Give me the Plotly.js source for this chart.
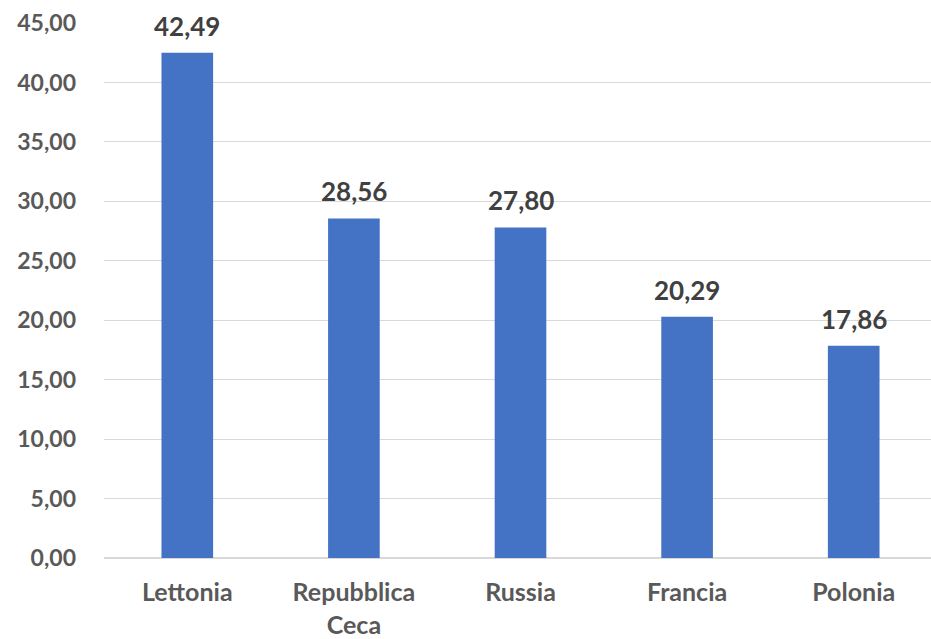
<!DOCTYPE html>
<html>
<head>
<meta charset="utf-8">
<script src="https://cdn.plot.ly/plotly-3.0.1.min.js"></script>
<style>
html,body{margin:0;padding:0;overflow:hidden;background:#fff;}
#chart{width:937px;height:639px;}
</style>
</head>
<body>
<div id="chart"></div>
<script>
const categories = ["Lettonia", "Repubblica<br>Ceca", "Russia", "Francia", "Polonia"];
const values = [42.49, 28.56, 27.80, 20.29, 17.86];
const yTicks = [0, 5, 10, 15, 20, 25, 30, 35, 40, 45];

const FONT = "Lato, 'Open Sans', sans-serif";

const trace = {
  type: "bar",
  x: categories,
  y: values,
  marker: {color: "#4472C4"},
  hoverinfo: "none"
};

const fmt = v => v.toFixed(2).replace(".", ",");

const labels = categories.map((c, i) => ({
  x: c,
  y: values[i],
  xref: "x",
  yref: "y",
  text: "<b>" + fmt(values[i]) + "</b>",
  showarrow: false,
  yanchor: "bottom",
  yshift: 9,
  font: {family: FONT, size: 26, color: "#404040", weight: 700}
}));

const layout = {
  width: 937,
  height: 639,
  separators: ",.",
  margin: {l: 104, r: 0, t: 23, b: 81},
  paper_bgcolor: "#fff",
  plot_bgcolor: "#fff",
  showlegend: false,
  bargap: 0.69,
  font: {family: FONT, color: "#595959"},
  annotations: labels,
  xaxis: {
    type: "category",
    showgrid: false,
    showline: false,
    ticks: "",
    tickfont: {family: FONT, size: 25, color: "#595959", weight: 700},
    ticklabelstandoff: 17
  },
  yaxis: {
    range: [0, 45],
    tickvals: yTicks,
    tickformat: ".2f",
    showgrid: true,
    gridcolor: "#d9d9d9",
    gridwidth: 1,
    zeroline: true,
    zerolinecolor: "#d9d9d9",
    zerolinewidth: 1.5,
    showline: false,
    ticks: "",
    tickfont: {family: FONT, size: 23, color: "#595959", weight: 700},
    ticklabelstandoff: 27
  }
};

Plotly.newPlot("chart", [trace], layout, {displayModeBar: false, staticPlot: true});
</script>
</body>
</html>
